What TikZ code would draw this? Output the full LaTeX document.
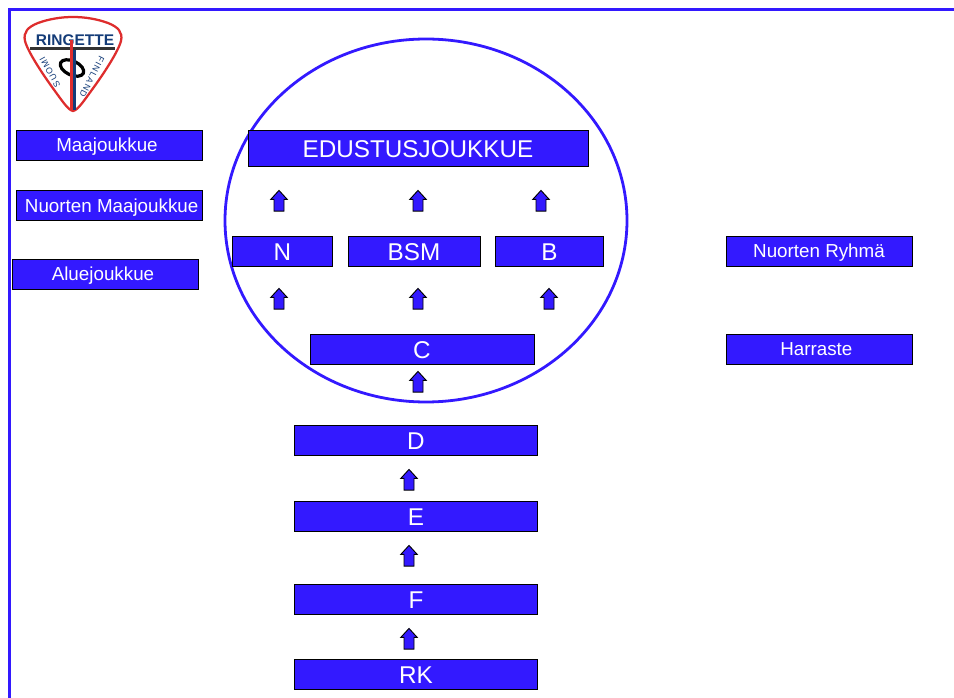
\documentclass[tikz,border=0pt]{standalone}
\usepackage{fontspec}
\setmainfont{Liberation Sans}
\usetikzlibrary{shapes.arrows}

\definecolor{boxblue}{RGB}{51,25,255}
\definecolor{logored}{RGB}{222,45,45}
\definecolor{logoblue}{RGB}{20,60,120}

\tikzset{
	team/.style={draw=black, line width=0.7pt, fill=boxblue, text=white, inner sep=0pt, text height=10pt, text depth=0pt, font=\fontsize{14.1}{16}\selectfont},
	teambig/.style={team, text height=14pt, font=\fontsize{18.2}{20}\selectfont},
	uparrow/.style={draw=black, line width=0.7pt, fill=boxblue, single arrow, shape border rotate=90, single arrow head extend=2.4pt, single arrow tip angle=85, minimum height=15.5pt, inner sep=3.4pt},
	logosmall/.style={text=logoblue, inner sep=0pt, font=\fontsize{6.5}{7}\selectfont\addfontfeature{LetterSpace=14}}
}

\begin{document}
\begin{tikzpicture}[x=0.75pt, y=-0.75pt]
	\useasboundingbox (0,0) rectangle (954,698);
	% frame
	\draw[boxblue, line width=2.2pt] (9.5,698) -- (9.5,9.5) -- (954,9.5);
	% logo
	\draw[logored, line width=1.7pt, fill=white] (73,111) .. controls (68,110) and (63,102) .. (52,87) .. controls (42,73) and (28,52) .. (25,41) .. controls (23,32) and (28,27) .. (38,23) .. controls (60,15) and (86,15) .. (108,23) .. controls (118,27) and (123,32) .. (121,41) .. controls (118,52) and (104,73) .. (94,87) .. controls (83,102) and (78,110) .. (73,111) -- cycle;
	\node[text=logoblue, inner sep=0pt, font=\bfseries\fontsize{11.6}{12}\selectfont] (logotext) at (75,40) {RINGETTE};
	\draw[black!80, line width=1.7pt] (30,48.5) -- (115,48.5);
	\draw[black, line width=2.4pt, rotate around={-25:(72,68)}] (72,68) ellipse (12.5 and 7);
	\draw[logoblue, line width=1.7pt] (74.5,50) -- (74.5,110);
	\draw[logored, line width=2.8pt] (71.5,40) -- (71.5,110);
	\node[logosmall, rotate=119] (suomi) at (50,72) {SUOMI};
	\node[logosmall, rotate=-117] (finland) at (92,77) {FINLAND};
	% circle
	\draw[boxblue, line width=2.1pt] (426,220.5) ellipse (201 and 181.5);
	% left column
	\node[team, minimum width=139.5pt, minimum height=22.5pt] (maa) at (109,145) {Maajoukkue\hspace*{3pt}};
	\node[team, minimum width=139.5pt, minimum height=23pt] (nuoretmaa) at (109,205.5) {\hspace*{4pt}Nuorten Maajoukkue};
	\node[team, minimum width=139.5pt, minimum height=22.5pt] (alue) at (105,274) {Aluejoukkue\hspace*{3pt}};
	% inside the circle
	\node[teambig, minimum width=255pt, minimum height=27.5pt] (edustus) at (418,148.5) {EDUSTUSJOUKKUE};
	\node[teambig, minimum width=75.5pt, minimum height=22.5pt] (n) at (282.5,251) {N};
	\node[teambig, minimum width=99pt, minimum height=22.5pt] (bsm) at (414,251) {BSM};
	\node[teambig, minimum width=81.5pt, minimum height=22.5pt] (b) at (549.5,251) {B};
	\node[teambig, minimum width=168pt, minimum height=23pt] (c) at (422,349.5) {C};
	% lower column
	\node[teambig, minimum width=182.5pt, minimum height=22.5pt] (d) at (416,440) {D};
	\node[teambig, minimum width=182.5pt, minimum height=22.5pt] (e) at (416,516) {E};
	\node[teambig, minimum width=182.5pt, minimum height=22.5pt] (f) at (416,599) {F};
	\node[teambig, minimum width=182.5pt, minimum height=22.5pt] (rk) at (416,674) {RK};
	% right column
	\node[team, minimum width=139.5pt, minimum height=22.5pt] (ryhma) at (819,251) {Nuorten Ryhmä};
	\node[team, minimum width=139.5pt, minimum height=22.5pt] (harraste) at (819,349) {Harraste\hspace*{4pt}};
	% arrows
	\node[uparrow] (a1) at (279,203.5) {};
	\node[uparrow] (a2) at (418,203.5) {};
	\node[uparrow] (a3) at (541,203.5) {};
	\node[uparrow] (a4) at (279,301.5) {};
	\node[uparrow] (a5) at (418,301.5) {};
	\node[uparrow] (a6) at (549,301.5) {};
	\node[uparrow] (a7) at (418,384.5) {};
	\node[uparrow] (a8) at (409,482.5) {};
	\node[uparrow] (a9) at (409,558.5) {};
	\node[uparrow] (a10) at (409,641.5) {};
\end{tikzpicture}
\end{document}
